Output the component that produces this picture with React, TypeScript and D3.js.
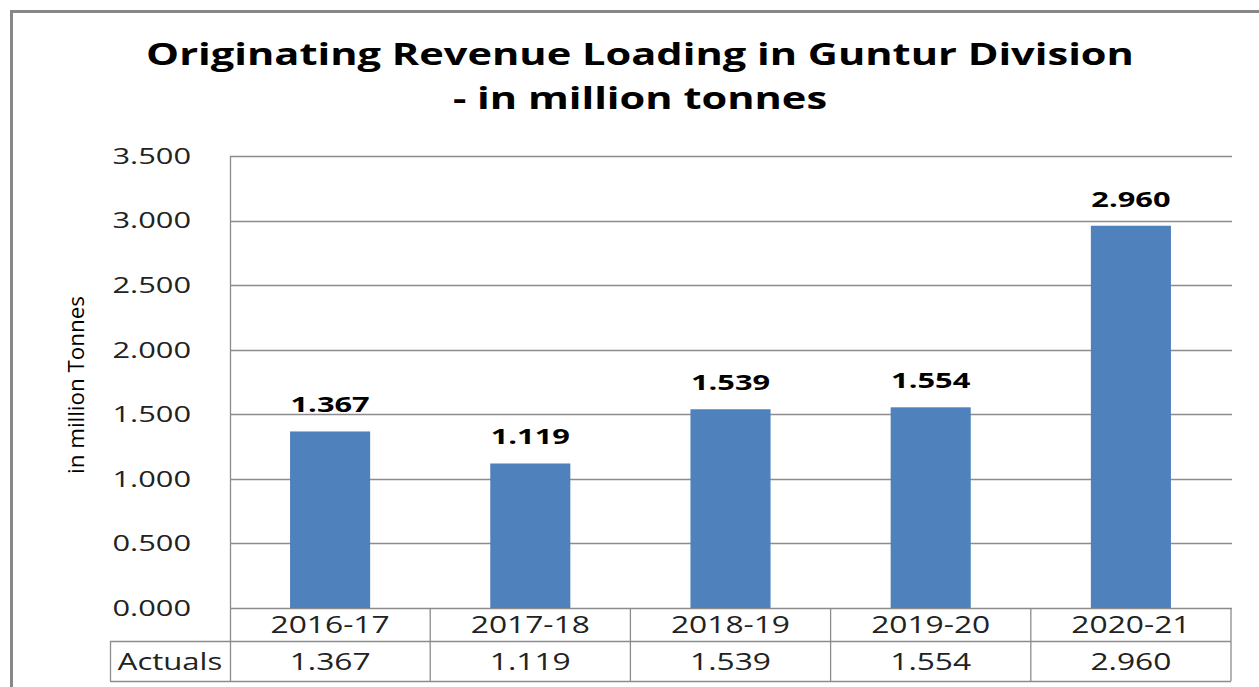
import React from "react";
import * as d3 from "d3";

const categories = ["2016-17", "2017-18", "2018-19", "2019-20", "2020-21"];
const actuals = [1.367, 1.119, 1.539, 1.554, 2.96];
const yTicks = [0, 0.5, 1, 1.5, 2, 2.5, 3, 3.5];
const titleLines = ["Originating Revenue Loading in Guntur Division", "- in million tonnes"];
const yLabel = "in million Tonnes";
const rowLabel = "Actuals";

const W = 1259, H = 687;
const plotL = 230, plotR = 1231, plotT = 156, plotB = 608;
const row1B = 641, row2B = 681, tableL = 110;
const font = "'Open Sans', 'DejaVu Sans', sans-serif";
const grid = "#8c8c8c";

function SText(props: { x: number; y: number; sx?: number; anchor?: string; size: number; bold?: boolean; dy?: string; fill?: string; children: React.ReactNode }) {
  const { x, y, sx = 1.4, anchor = "middle", size, bold, dy, fill = "#222", children } = props;
  return (
    <text transform={`translate(${x},${y}) scale(${sx},1)`} textAnchor={anchor} fontSize={size} fontWeight={bold ? "bold" : "normal"} dy={dy} fill={fill}>
      {children}
    </text>
  );
}

export default function App() {
  const x = d3.scaleBand<string>().domain(categories).range([plotL, plotR]).paddingInner(0.6).paddingOuter(0.3);
  const xb = d3.scaleBand<string>().domain(categories).range([plotL, plotR]);
  const y = d3.scaleLinear().domain([0, 3.5]).range([plotB, plotT]);
  const fmt = d3.format(".3f");
  return (
    <svg width={W} height={H} style={{ position: "absolute", left: 0, top: 0, background: "#fff" }} fontFamily={font}>
      <rect x={0} y={0} width={W} height={H} fill="#fff" />
      <path d={`M11.5,${H} V11.5 H${W}`} fill="none" stroke="#888" strokeWidth={3} />
      {titleLines.map((t, i) => (
        <SText key={i} x={640} y={65 + i * 44} sx={1.41} size={29.5} bold fill="#000">{t}</SText>
      ))}
      {yTicks.map((t) => (
        <g key={t}>
          <line x1={plotL} x2={plotR + 1} y1={Math.round(y(t)) + 0.5} y2={Math.round(y(t)) + 0.5} stroke={grid} strokeWidth={1.3} />
          <SText x={191} y={y(t)} dy="0.36em" anchor="end" size={22} sx={1.4}>{fmt(t)}</SText>
        </g>
      ))}
      <line x1={plotL + 0.5} x2={plotL + 0.5} y1={plotT} y2={row2B} stroke={grid} strokeWidth={1.3} />
      <text transform={`translate(84,${(plotT + plotB) / 2 + 3}) rotate(-90)`} textAnchor="middle" fontSize={21} fill="#000" textLength={178} lengthAdjust="spacingAndGlyphs">{yLabel}</text>
      {categories.map((c, i) => (
        <g key={c}>
          <rect x={x(c)} y={y(actuals[i])} width={x.bandwidth()} height={y(0) - y(actuals[i])} fill="#4F81BD" />
          <SText x={x(c)! + x.bandwidth() / 2} y={y(actuals[i]) - 19} size={22} bold sx={1.4} fill="#000">{fmt(actuals[i])}</SText>
          <SText x={xb(c)! + xb.bandwidth() / 2} y={(plotB + row1B) / 2} dy="0.38em" size={23} sx={1.38}>{c}</SText>
          <SText x={xb(c)! + xb.bandwidth() / 2} y={(row1B + row2B) / 2} dy="0.38em" size={23} sx={1.38}>{fmt(actuals[i])}</SText>
          <line x1={xb(c)! + xb.bandwidth()} x2={xb(c)! + xb.bandwidth()} y1={plotB} y2={row2B} stroke={grid} strokeWidth={1.3} />
        </g>
      ))}
      <line x1={tableL} x2={plotR} y1={row1B + 0.5} y2={row1B + 0.5} stroke={grid} strokeWidth={1.3} />
      <line x1={tableL} x2={plotR} y1={row2B + 0.5} y2={row2B + 0.5} stroke={grid} strokeWidth={1.3} />
      <line x1={tableL + 0.5} x2={tableL + 0.5} y1={row1B} y2={row2B} stroke={grid} strokeWidth={1.3} />
      <SText x={(tableL + plotL) / 2} y={(row1B + row2B) / 2} dy="0.38em" size={23} sx={1.35}>{rowLabel}</SText>
    </svg>
  );
}
